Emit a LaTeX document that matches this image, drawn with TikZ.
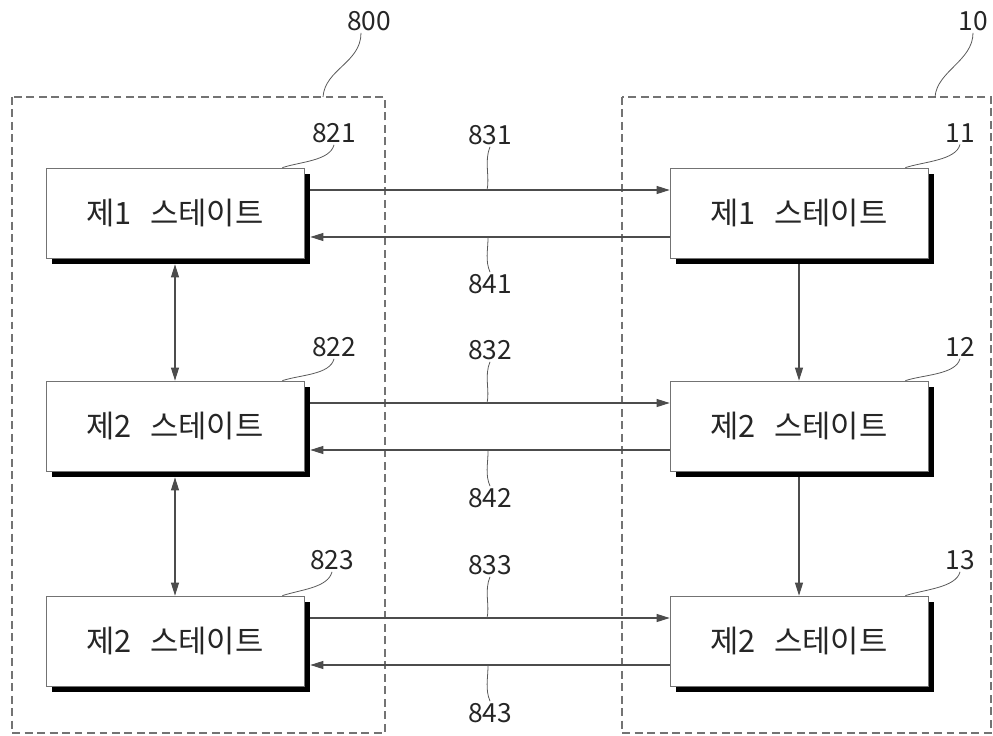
\documentclass[tikz,border=0pt]{standalone}
\usepackage{fontspec}
\setmainfont{Noto Sans CJK KR}
\usetikzlibrary{arrows.meta,shadows}

\newcommand{\gap}{\hspace{0.6em}}

\tikzset{
  state/.style={draw=black!55, fill=white, minimum width=5.16cm, minimum height=1.8cm,
    font=\fontsize{17.5}{20}\selectfont, text=black!85,
    drop shadow={shadow xshift=1.2mm, shadow yshift=-1.2mm, fill=black, opacity=1}},
  frame/.style={draw=black!55, line width=0.6pt, dash pattern=on 4.5pt off 2.6pt},
  refnum/.style={font=\fontsize{15}{18}\selectfont, text=black!85, inner sep=1pt},
  lead/.style={draw=black!65, line width=0.45pt},
  flow/.style={draw=black!70, line width=0.6pt, -{Triangle[length=2.6mm,width=1.6mm]}},
  both/.style={draw=black!70, line width=0.6pt, {Triangle[length=2.6mm,width=1.6mm]}-{Triangle[length=2.6mm,width=1.6mm]}}
}

\begin{document}
\begin{tikzpicture}[x=0.02cm, y=-0.02cm]
    \useasboundingbox (0,0) rectangle (993,736);

    % Dashed groups
    \draw[frame] (12,97) rectangle (385,733);
    \draw[frame] (622,97) rectangle (991,733);

    % States, left group
    \node[state] (s821) at (175,213) {제1\gap 스테이트};
    \node[state] (s822) at (175,426) {제2\gap 스테이트};
    \node[state] (s823) at (175,641) {제2\gap 스테이트};

    % States, right group
    \node[state] (s11) at (799,213) {제1\gap 스테이트};
    \node[state] (s12) at (799,426) {제2\gap 스테이트};
    \node[state] (s13) at (799,641) {제2\gap 스테이트};

    % Links between the groups
    \draw[flow] ([xshift=1.2mm,yshift=0.46cm]s821.east) -- ([yshift=0.46cm]s11.west);
    \draw[flow] ([yshift=-0.48cm]s11.west) -- ([xshift=1.2mm,yshift=-0.48cm]s821.east);
    \draw[flow] ([xshift=1.2mm,yshift=0.46cm]s822.east) -- ([yshift=0.46cm]s12.west);
    \draw[flow] ([yshift=-0.48cm]s12.west) -- ([xshift=1.2mm,yshift=-0.48cm]s822.east);
    \draw[flow] ([xshift=1.2mm,yshift=0.46cm]s823.east) -- ([yshift=0.46cm]s13.west);
    \draw[flow] ([yshift=-0.48cm]s13.west) -- ([xshift=1.2mm,yshift=-0.48cm]s823.east);

    % Links inside the groups
    \draw[both] ([yshift=-1.2mm]s821.south) -- (s822.north);
    \draw[both] ([yshift=-1.2mm]s822.south) -- (s823.north);
    \draw[flow] ([yshift=-1.2mm]s11.south) -- (s12.north);
    \draw[flow] ([yshift=-1.2mm]s12.south) -- (s13.north);

    % Reference numerals
    \node[refnum] (r800) at (369,21) {800};
    \node[refnum] (r10) at (973,21) {10};
    \node[refnum] (r821) at (334,133) {821};
    \node[refnum] (r822) at (334,347) {822};
    \node[refnum] (r823) at (332,560) {823};
    \node[refnum] (r11) at (960,133) {11};
    \node[refnum] (r12) at (960,347) {12};
    \node[refnum] (r13) at (960,560) {13};
    \node[refnum] (r831) at (490,135) {831};
    \node[refnum] (r832) at (490,350) {832};
    \node[refnum] (r833) at (490,565) {833};
    \node[refnum] (r841) at (490,284) {841};
    \node[refnum] (r842) at (490,498) {842};
    \node[refnum] (r843) at (490,713) {843};

    \coordinate (t800) at (323,97);
    \coordinate (t10) at (935,97);
    \coordinate (t821) at ([xshift=-0.44cm]s821.north east);
    \coordinate (t822) at ([xshift=-0.44cm]s822.north east);
    \coordinate (t823) at ([xshift=-0.44cm]s823.north east);
    \coordinate (t11) at ([xshift=-0.46cm]s11.north east);
    \coordinate (t12) at ([xshift=-0.46cm]s12.north east);
    \coordinate (t13) at ([xshift=-0.46cm]s13.north east);
    \coordinate (p831) at (487,190);
    \coordinate (p832) at (487,403);
    \coordinate (p833) at (487,618);
    \coordinate (p841) at (488,237);
    \coordinate (p842) at (488,451);
    \coordinate (p843) at (488,665);

    % Leaders
    \draw[lead] ([xshift=-0.16cm]r800.south) .. controls +(0,30) and +(2,-28) .. (t800);
    \draw[lead] (r10.south) .. controls +(0,28) and +(2,-26) .. (t10);
    \draw[lead] (r821.south) .. controls +(-4,16) and +(18,-6) .. (t821);
    \draw[lead] (r822.south) .. controls +(-4,16) and +(18,-6) .. (t822);
    \draw[lead] (r823.south) .. controls +(-4,16) and +(18,-6) .. (t823);
    \draw[lead] (r11.south) .. controls +(-4,16) and +(18,-6) .. (t11);
    \draw[lead] (r12.south) .. controls +(-4,16) and +(18,-6) .. (t12);
    \draw[lead] (r13.south) .. controls +(-4,16) and +(18,-6) .. (t13);
    \draw[lead] (r831.south) .. controls +(-6,14) and +(3,-12) .. (p831);
    \draw[lead] (r832.south) .. controls +(-6,14) and +(3,-12) .. (p832);
    \draw[lead] (r833.south) .. controls +(-6,14) and +(3,-12) .. (p833);
    \draw[lead] (p841) .. controls +(0,14) and +(-5,-12) .. (r841.north);
    \draw[lead] (p842) .. controls +(0,14) and +(-5,-12) .. (r842.north);
    \draw[lead] (p843) .. controls +(0,14) and +(-5,-12) .. (r843.north);
\end{tikzpicture}
\end{document}
